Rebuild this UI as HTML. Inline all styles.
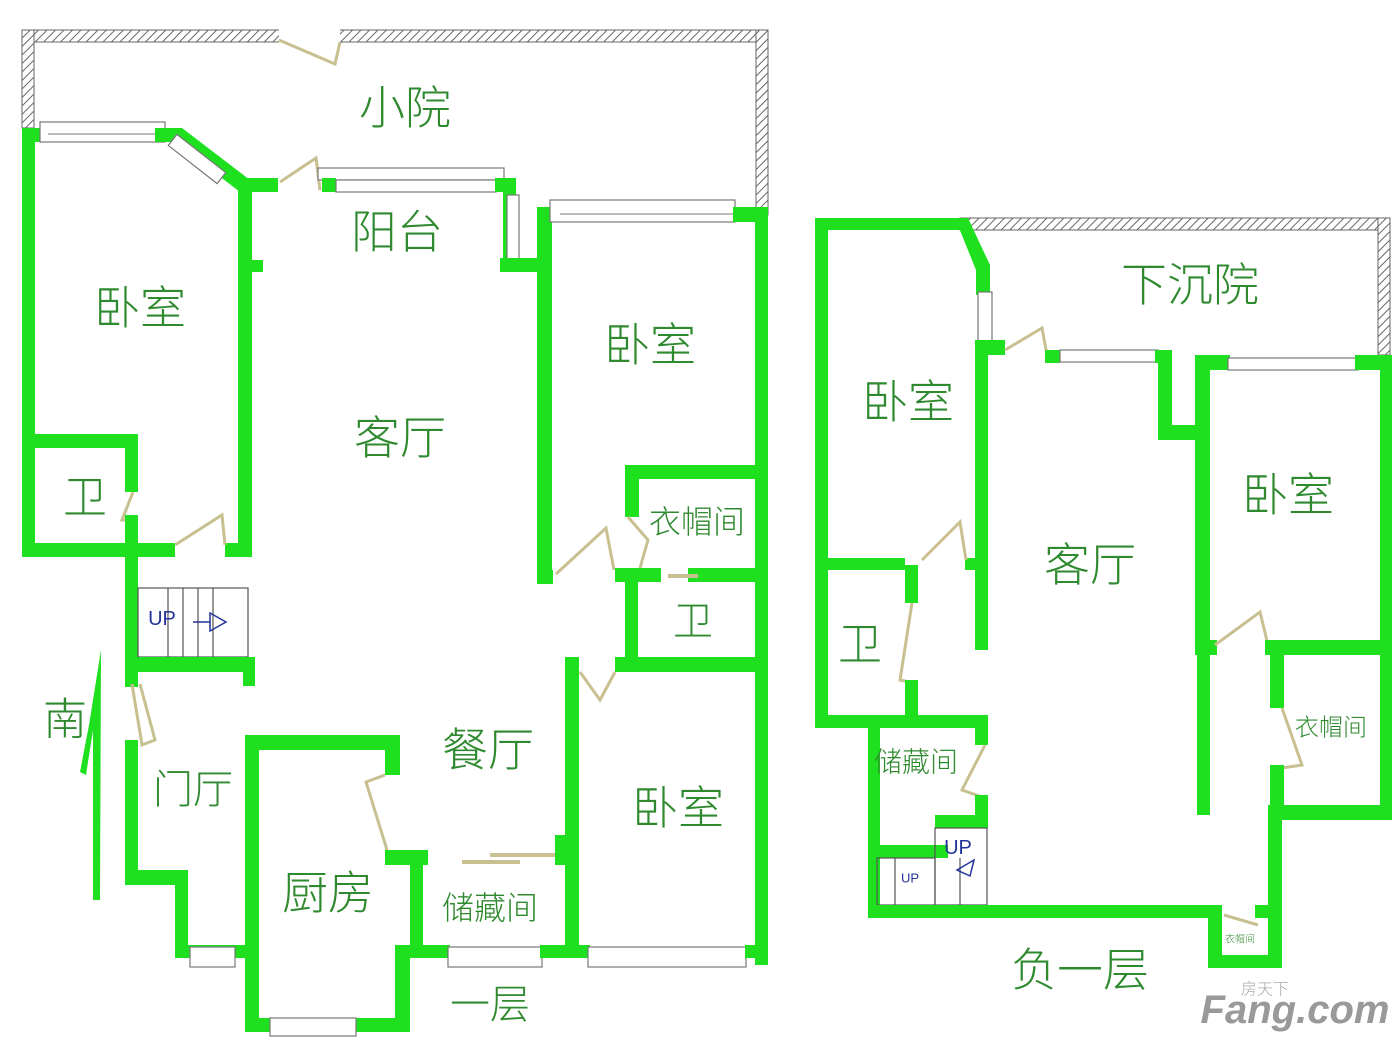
<!DOCTYPE html>
<html><head><meta charset="utf-8"><style>
body{margin:0;background:#fff}
svg{display:block}
.g{fill:#1ee01e}
text{font-family:"Liberation Sans","Noto Sans CJK SC",sans-serif;fill:#2f8a2f;text-anchor:middle;dominant-baseline:central;font-weight:300}
.w{fill:#fff;stroke:#777;stroke-width:1.2}
.d{fill:none;stroke:#c8c090;stroke-width:3}
.st{fill:none;stroke:#555;stroke-width:1.2}
</style></head><body>
<svg width="1400" height="1050" viewBox="0 0 1400 1050">
<defs><pattern id="h" width="6" height="6" patternUnits="userSpaceOnUse" patternTransform="rotate(45)"><rect width="6" height="6" fill="#fff"/><line x1="0" y1="0" x2="0" y2="6" stroke="#666" stroke-width="2"/></pattern></defs>
<rect x="22" y="30" width="746" height="12" fill="url(#h)" stroke="#666"/>
<rect x="22" y="30" width="12" height="98" fill="url(#h)" stroke="#666"/>
<rect x="756" y="30" width="12" height="185" fill="url(#h)" stroke="#666"/>
<rect x="279" y="29" width="61" height="14" fill="#fff"/>
<path class="d" d="M279 40 L335 64 L340 42"/>
<rect class="g" x="22" y="128" width="13" height="428"/>
<rect class="g" x="22" y="128" width="26" height="14"/>
<rect class="w" x="40" y="122" width="125" height="20"/><line x1="48" y1="134" x2="158" y2="134" stroke="#777"/>
<rect class="g" x="155" y="128" width="20" height="14"/>
<polygon class="g" points="165,128 182,128 250,180 250,192 240,192 175,142 165,142"/>
<rect class="w" x="190" y="128" width="14" height="62" transform="rotate(-52 197 159)"/>
<rect class="g" x="238" y="178" width="40" height="14"/>
<rect class="g" x="238" y="185" width="14" height="370"/>
<rect class="g" x="250" y="260" width="13" height="12"/>
<path class="d" d="M280 182 L316 158 L320 190"/>
<rect class="w" x="318" y="168" width="186" height="12"/>
<rect class="g" x="322" y="178" width="14" height="14"/>
<rect class="w" x="336" y="180" width="160" height="12"/>
<rect class="g" x="495" y="178" width="20" height="14"/>
<rect class="g" x="503" y="178" width="13" height="94"/>
<rect class="w" x="507" y="195" width="12" height="65"/>
<rect class="g" x="500" y="258" width="42" height="14"/>
<rect class="g" x="537" y="207" width="15" height="375"/>
<rect class="g" x="537" y="207" width="28" height="15"/>
<rect class="w" x="550" y="200" width="185" height="22"/><line x1="560" y1="214" x2="735" y2="214" stroke="#777"/>
<rect class="g" x="733" y="207" width="35" height="15"/>
<rect class="g" x="755" y="207" width="13" height="758"/>
<rect class="g" x="537" y="570" width="16" height="14"/>
<path class="d" d="M556 574 L606 528 L614 570"/>
<rect class="g" x="625" y="465" width="143" height="14"/>
<rect class="g" x="625" y="465" width="14" height="52"/>
<path class="d" d="M628 517 L648 540 L640 568"/>
<rect class="g" x="615" y="568" width="46" height="14"/>
<rect class="g" x="688" y="568" width="80" height="14"/>
<line x1="668" y1="576" x2="698" y2="576" stroke="#c8c090" stroke-width="4"/>
<rect class="g" x="625" y="575" width="13" height="92"/>
<rect class="g" x="615" y="657" width="153" height="15"/>
<rect class="g" x="565" y="657" width="14" height="301"/>
<path class="d" d="M580 672 L600 700 L615 672"/>
<rect class="g" x="22" y="434" width="116" height="14"/>
<rect class="g" x="125" y="434" width="13" height="58"/>
<path class="d" d="M133 492 L122 520 L133 520"/>
<rect class="g" x="22" y="543" width="153" height="14"/>
<rect class="g" x="225" y="543" width="27" height="14"/>
<path class="d" d="M175 545 L222 515 L225 545"/>
<rect class="g" x="125" y="515" width="13" height="172"/>
<rect class="st" x="138" y="588" width="110" height="69"/>
<line class="st" x1="168" y1="588" x2="168" y2="657"/><line class="st" x1="183" y1="588" x2="183" y2="657"/><line class="st" x1="198" y1="588" x2="198" y2="657"/><line class="st" x1="213" y1="588" x2="213" y2="657"/>
<text x="162" y="619" style="fill:#223399;font-size:20px">UP</text>
<path d="M193 622 L210 622 M210 613 L226 622 L210 631 Z" fill="none" stroke="#223399" stroke-width="1.5"/>
<rect class="g" x="138" y="657" width="117" height="15"/>
<rect class="g" x="243" y="668" width="12" height="18"/>
<path class="d" d="M132 684 L142 745 L155 740 L140 684"/>
<rect class="g" x="125" y="740" width="13" height="145"/>
<rect class="g" x="125" y="870" width="63" height="15"/>
<rect class="g" x="175" y="870" width="13" height="88"/>
<rect class="g" x="175" y="945" width="70" height="13"/>
<rect class="w" x="190" y="947" width="45" height="20"/>
<polygon class="g" points="101,650 100,900 93,900 93,730 86,775 80,772 89,725"/>
<rect class="g" x="245" y="735" width="14" height="297"/>
<rect class="g" x="245" y="735" width="155" height="15"/>
<rect class="g" x="385" y="745" width="15" height="30"/>
<path class="d" d="M385 775 L366 782 L387 850"/>
<rect class="g" x="385" y="850" width="43" height="15"/>
<rect class="g" x="410" y="860" width="13" height="98"/>
<rect class="g" x="395" y="945" width="55" height="13"/>
<rect class="g" x="395" y="945" width="15" height="87"/>
<rect class="g" x="245" y="1018" width="165" height="14"/>
<rect class="w" x="270" y="1018" width="86" height="18"/>
<rect class="w" x="448" y="947" width="94" height="20"/>
<rect class="g" x="540" y="945" width="50" height="13"/>
<rect class="w" x="588" y="947" width="158" height="20"/>
<rect class="g" x="745" y="945" width="23" height="13"/>
<rect class="g" x="555" y="835" width="12" height="30"/>
<line x1="462" y1="862" x2="520" y2="862" stroke="#c8c090" stroke-width="4"/>
<line x1="490" y1="855" x2="555" y2="855" stroke="#c8c090" stroke-width="4"/>
<text x="405" y="108" font-size="46">小院</text>
<text x="397" y="232" font-size="46">阳台</text>
<text x="140" y="308" font-size="46">卧室</text>
<text x="400" y="438" font-size="46">客厅</text>
<text x="650" y="345" font-size="46">卧室</text>
<text x="697" y="522" font-size="32">衣帽间</text>
<text x="85" y="498" font-size="44">卫</text>
<text x="693" y="622" font-size="40">卫</text>
<text x="65" y="720" font-size="44">南</text>
<text x="193" y="790" font-size="40">门厅</text>
<text x="488" y="750" font-size="46">餐厅</text>
<text x="678" y="808" font-size="46">卧室</text>
<text x="328" y="893" font-size="46">厨房</text>
<text x="490" y="908" font-size="32">储藏间</text>
<text x="490" y="1005" font-size="40">一层</text>
<rect x="960" y="218" width="430" height="12" fill="url(#h)" stroke="#666"/>
<rect x="1378" y="218" width="12" height="137" fill="url(#h)" stroke="#666"/>
<rect class="g" x="815" y="218" width="148" height="12"/>
<rect class="g" x="815" y="218" width="13" height="510"/>
<polygon class="g" points="955,218 968,218 990,265 990,295 976,295 976,270"/>
<rect class="w" x="978" y="292" width="14" height="50"/>
<rect class="g" x="975" y="340" width="30" height="15"/>
<path class="d" d="M1005 350 L1042 328 L1047 355"/>
<rect class="g" x="1045" y="350" width="15" height="13"/>
<rect class="w" x="1060" y="350" width="98" height="12"/>
<rect class="g" x="1155" y="350" width="17" height="13"/>
<rect class="g" x="1158" y="350" width="14" height="90"/>
<rect class="g" x="1158" y="425" width="52" height="15"/>
<rect class="g" x="1195" y="355" width="15" height="285"/>
<rect class="g" x="1195" y="355" width="35" height="15"/>
<rect class="w" x="1228" y="358" width="130" height="12"/>
<rect class="g" x="1355" y="355" width="37" height="15"/>
<rect class="g" x="1380" y="355" width="12" height="465"/>
<rect class="g" x="975" y="352" width="13" height="298"/>
<rect class="g" x="815" y="558" width="90" height="12"/>
<rect class="g" x="965" y="558" width="23" height="12"/>
<path class="d" d="M922 560 L960 522 L966 560"/>
<rect class="g" x="905" y="565" width="13" height="38"/>
<path class="d" d="M912 603 L900 680 L910 682"/>
<rect class="g" x="905" y="680" width="13" height="48"/>
<rect class="g" x="815" y="715" width="173" height="13"/>
<rect class="g" x="975" y="715" width="13" height="30"/>
<path class="d" d="M985 745 L962 790 L985 798"/>
<rect class="g" x="975" y="795" width="13" height="30"/>
<rect class="g" x="935" y="815" width="53" height="13"/>
<rect class="g" x="868" y="715" width="12" height="203"/>
<rect class="g" x="868" y="845" width="80" height="13"/>
<rect class="st" x="877" y="858" width="58" height="47"/>
<rect class="st" x="935" y="828" width="52" height="77"/>
<line class="st" x1="895" y1="858" x2="895" y2="905"/><line class="st" x1="960" y1="858" x2="960" y2="905"/>
<text x="958" y="848" style="fill:#223399;font-size:20px">UP</text>
<path d="M957 870 L974 860 L970 876 Z" fill="none" stroke="#223399" stroke-width="1.5"/>
<text x="910" y="878" style="fill:#223399;font-size:13px">UP</text>
<rect class="g" x="868" y="905" width="352" height="13"/>
<path class="d" d="M1224 915 L1258 925"/>
<rect class="g" x="1255" y="905" width="27" height="13"/>
<rect class="g" x="1208" y="905" width="14" height="63"/>
<rect class="g" x="1208" y="955" width="74" height="13"/>
<rect class="g" x="1268" y="805" width="14" height="163"/>
<rect class="g" x="1268" y="805" width="124" height="15"/>
<rect class="g" x="1195" y="640" width="22" height="15"/>
<path class="d" d="M1215 645 L1260 612 L1268 645"/>
<rect class="g" x="1265" y="640" width="127" height="15"/>
<rect class="g" x="1270" y="650" width="14" height="58"/>
<path class="d" d="M1282 708 L1302 765 L1282 768"/>
<rect class="g" x="1270" y="765" width="14" height="50"/>
<rect class="g" x="1197" y="655" width="13" height="160"/>
<text x="1190" y="285" font-size="46">下沉院</text>
<text x="908" y="402" font-size="46">卧室</text>
<text x="1288" y="495" font-size="46">卧室</text>
<text x="1090" y="565" font-size="46">客厅</text>
<text x="860" y="645" font-size="44">卫</text>
<text x="916" y="762" font-size="28">储藏间</text>
<text x="1331" y="728" font-size="24">衣帽间</text>
<text x="1240" y="940" font-size="10">衣帽间</text>
<text x="1080" y="970" font-size="46">负一层</text>
<text x="1295" y="1010" style="fill:#999;font-size:40px;font-weight:bold;font-style:italic">Fang.com</text>
<text x="1265" y="990" style="fill:#aaa;font-size:16px">房天下</text>
</svg>
</body></html>
